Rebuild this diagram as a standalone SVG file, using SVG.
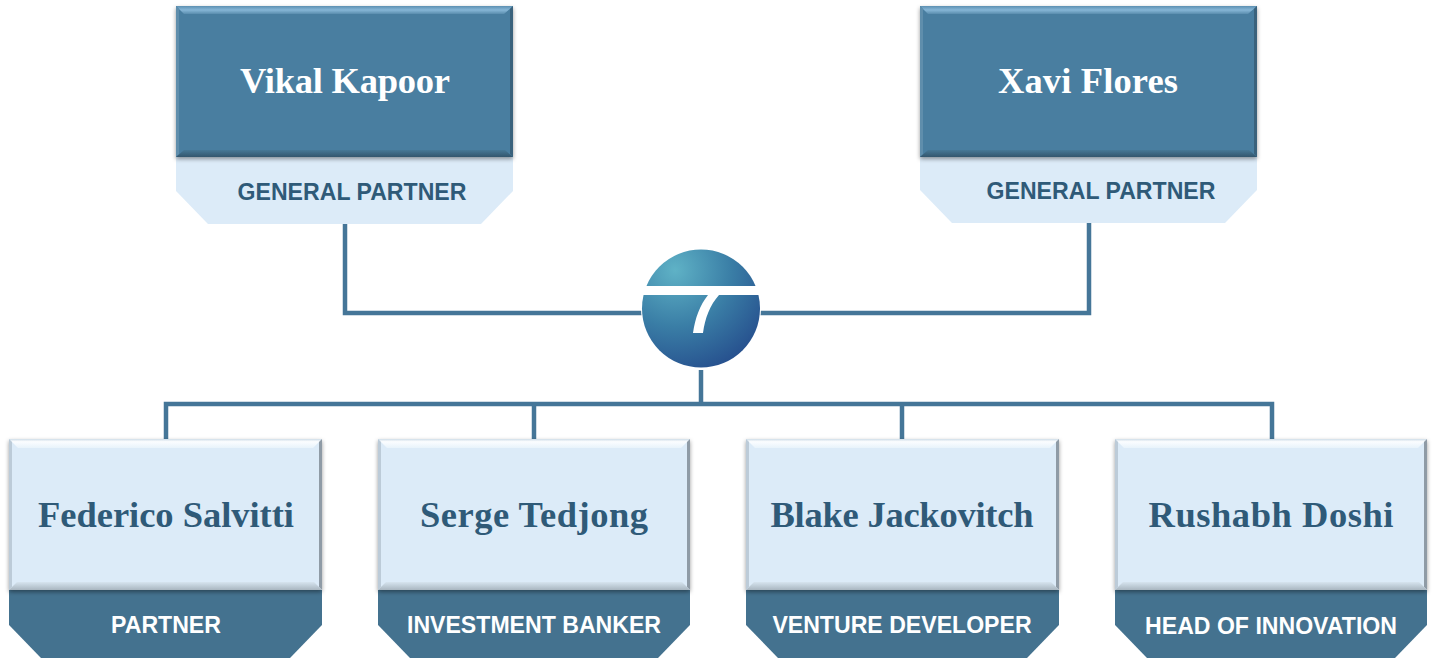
<svg xmlns="http://www.w3.org/2000/svg" width="1436" height="658" viewBox="0 0 1436 658">
<style>
.name{font-family:"Liberation Serif","Times New Roman",serif;font-weight:700;font-size:36.500px;text-anchor:middle}
.role{font-family:"Liberation Sans",Arial,sans-serif;font-weight:700;font-size:23.100px;text-anchor:middle}
.wh{fill:#fff}.bl{fill:#2f5a78}
.dk{fill:#4a7ea0}.lt{fill:#dcebf8}.tagd{fill:#44728f}
.conn{fill:none;stroke:#457698;stroke-width:4.500;stroke-linejoin:miter}
.dt{fill:url(#dkTop)}.db{fill:url(#dkBot)}.dl{fill:#5f8eac}.dr{fill:#3a627c}
.lht{fill:url(#ltTop)}.lhb{fill:url(#ltBot)}.ll{fill:#bccbd8}.lr{fill:#8f9ba6}
</style>
<defs>
<linearGradient id="dkTop" x1="0" y1="0" x2="0" y2="1"><stop offset="0" stop-color="#5c90b2"/><stop offset=".5" stop-color="#86b6d6"/><stop offset="1" stop-color="#5a8dae"/></linearGradient>
<linearGradient id="dkBot" x1="0" y1="0" x2="0" y2="1"><stop offset="0" stop-color="#467896"/><stop offset="1" stop-color="#33566d"/></linearGradient>
<linearGradient id="ltTop" x1="0" y1="0" x2="0" y2="1"><stop offset="0" stop-color="#cfdde8"/><stop offset=".3" stop-color="#fbfdff"/><stop offset="1" stop-color="#e8f3fb"/></linearGradient>
<linearGradient id="ltBot" x1="0" y1="0" x2="0" y2="1"><stop offset="0" stop-color="#d6e4ef"/><stop offset="1" stop-color="#a9b6c0"/></linearGradient>
<radialGradient id="globe" gradientUnits="userSpaceOnUse" cx="675" cy="270" r="125">
<stop offset="0" stop-color="#5fb2c6"/><stop offset="0.45" stop-color="#3a7ea6"/><stop offset="1" stop-color="#1f3f85"/>
</radialGradient>
<filter id="sh" x="-5%" y="-5%" width="110%" height="112%"><feDropShadow dx="0" dy="2" stdDeviation="2" flood-color="#000" flood-opacity=".4"/></filter>
<clipPath id="capTop"><rect x="640" y="245" width="125" height="41"/></clipPath>
<clipPath id="capBot"><rect x="640" y="295" width="125" height="80"/></clipPath>
</defs>
<g id="connectors" class="conn">
<path d="M345 224V313H645"/>
<path d="M1089 223V313H758"/>
<path d="M701 370V404"/>
<path d="M166 439V404H1272V439"/>
<path d="M534 404V439"/>
<path d="M902 404V439"/>
</g>
<g id="node-vikal">
<path class="lt" d="M176 157H513V191L481 224H208L176 191Z"/>
<rect class="dk" x="176" y="6" width="337" height="151" filter="url(#sh)"/>
<path class="dt" d="M176 6H513L504 14H184Z"/>
<path class="dl" d="M176 6L179 9V154L176 157Z"/>
<path class="dr" d="M513 6L510 9V154L513 157Z"/>
<path class="db" d="M176 157L184 150H505L513 157Z"/>
<text class="name wh" x="345" y="93" textLength="210">Vikal Kapoor</text>
<text class="role bl" x="352" y="200">GENERAL PARTNER</text>
</g>
<g id="node-xavi">
<path class="lt" d="M920 157H1257V190L1225 223H952L920 190Z"/>
<rect class="dk" x="920" y="6" width="337" height="151" filter="url(#sh)"/>
<path class="dt" d="M920 6H1257L1248 14H928Z"/>
<path class="dl" d="M920 6L923 9V154L920 157Z"/>
<path class="dr" d="M1257 6L1254 9V154L1257 157Z"/>
<path class="db" d="M920 157L928 150H1249L1257 157Z"/>
<text class="name wh" x="1088" y="93" textLength="180">Xavi Flores</text>
<text class="role bl" x="1101" y="199">GENERAL PARTNER</text>
</g>
<g id="logo">
<circle cx="701" cy="308.500" r="60" fill="#fff"/>
<circle cx="701" cy="308.500" r="59" fill="url(#globe)" clip-path="url(#capTop)"/>
<circle cx="701" cy="308.500" r="59" fill="url(#globe)" clip-path="url(#capBot)"/>
<path fill="#fff" d="M708 295H719C710 305 705 318 703 333H693C695 318 700 305 708 295Z"/>
</g>
<g id="node-federico">
<path class="tagd" d="M9 590H322V625L290 658H41L9 625Z"/>
<rect class="lt" x="9" y="439" width="313" height="151" filter="url(#sh)"/>
<path class="lht" d="M9 439H322L313 448H18Z"/>
<path class="ll" d="M9 439L12 442V587L9 590Z"/>
<path class="lr" d="M322 439L319 442V587L322 590Z"/>
<path class="lhb" d="M9 590L17 582H314L322 590Z"/>
<text class="name bl" x="166" y="527" textLength="256">Federico Salvitti</text>
<text class="role wh" x="166" y="633">PARTNER</text>
</g>
<g id="node-serge">
<path class="tagd" d="M378 590H690V625L658 658H410L378 625Z"/>
<rect class="lt" x="378" y="439" width="312" height="151" filter="url(#sh)"/>
<path class="lht" d="M378 439H690L681 448H387Z"/>
<path class="ll" d="M378 439L381 442V587L378 590Z"/>
<path class="lr" d="M690 439L687 442V587L690 590Z"/>
<path class="lhb" d="M378 590L386 582H682L690 590Z"/>
<text class="name bl" x="534" y="527" textLength="228">Serge Tedjong</text>
<text class="role wh" x="534" y="633">INVESTMENT BANKER</text>
</g>
<g id="node-blake">
<path class="tagd" d="M746 590H1059V625L1027 658H778L746 625Z"/>
<rect class="lt" x="746" y="439" width="313" height="151" filter="url(#sh)"/>
<path class="lht" d="M746 439H1059L1050 448H755Z"/>
<path class="ll" d="M746 439L749 442V587L746 590Z"/>
<path class="lr" d="M1059 439L1056 442V587L1059 590Z"/>
<path class="lhb" d="M746 590L754 582H1051L1059 590Z"/>
<text class="name bl" x="902" y="527" textLength="263">Blake Jackovitch</text>
<text class="role wh" x="902" y="633">VENTURE DEVELOPER</text>
</g>
<g id="node-rushabh">
<path class="tagd" d="M1115 590H1427V625L1395 658H1147L1115 625Z"/>
<rect class="lt" x="1115" y="439" width="312" height="151" filter="url(#sh)"/>
<path class="lht" d="M1115 439H1427L1418 448H1124Z"/>
<path class="ll" d="M1115 439L1118 442V587L1115 590Z"/>
<path class="lr" d="M1427 439L1424 442V587L1427 590Z"/>
<path class="lhb" d="M1115 590L1123 582H1419L1427 590Z"/>
<text class="name bl" x="1271" y="527" textLength="245">Rushabh Doshi</text>
<text class="role wh" x="1271" y="634">HEAD OF INNOVATION</text>
</g>
</svg>
